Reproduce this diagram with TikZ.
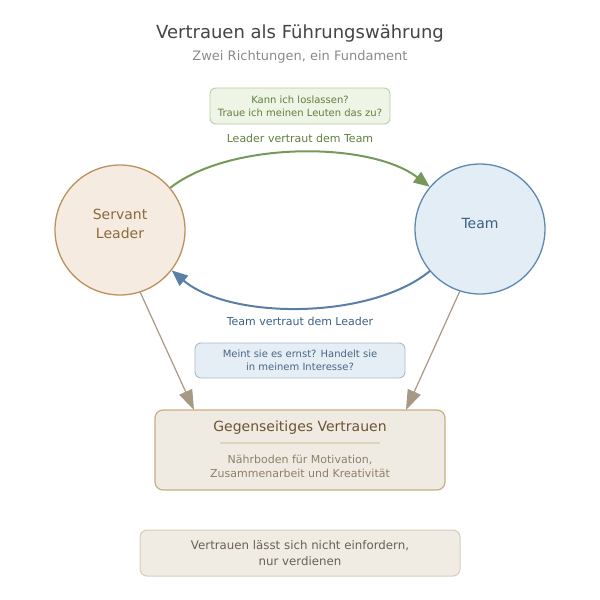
\documentclass[tikz,border=0pt]{standalone}
\usepackage{fontspec}
\setmainfont{DejaVu Sans}
\usetikzlibrary{arrows.meta}
\definecolor{titlec}{HTML}{444444}
\definecolor{subc}{HTML}{8A8A8A}
\definecolor{gfill}{HTML}{EEF4E6}
\definecolor{gdraw}{HTML}{B7CFA2}
\definecolor{gtext}{HTML}{5F7F3F}
\definecolor{garrow}{HTML}{76995A}
\definecolor{slfill}{HTML}{F5EBE1}
\definecolor{sldraw}{HTML}{B8925F}
\definecolor{sltext}{HTML}{8B6A3A}
\definecolor{tfill}{HTML}{E3EDF5}
\definecolor{tdraw}{HTML}{5F87B0}
\definecolor{ttext}{HTML}{3F5F85}
\definecolor{barrow}{HTML}{5B7EA8}
\definecolor{bfill}{HTML}{E6EEF5}
\definecolor{bdraw}{HTML}{A7BCD0}
\definecolor{btext}{HTML}{4A6585}
\definecolor{brarrow}{HTML}{A89886}
\definecolor{ffill}{HTML}{F0EBE2}
\definecolor{fdraw}{HTML}{C8AE80}
\definecolor{fhead}{HTML}{6B5535}
\definecolor{fline}{HTML}{E0D4BE}
\definecolor{fsub}{HTML}{8F7F68}
\definecolor{nfill}{HTML}{F0EBE3}
\definecolor{ndraw}{HTML}{D8CCBE}
\definecolor{ntext}{HTML}{6B6055}
\tikzset{
  circ/.style={circle, minimum size=130pt, inner sep=0pt, line width=1.3pt},
  ctext/.style={align=center, font=\fontsize{14}{19}\selectfont},
  rbox/.style={rounded corners=6pt, line width=0.9pt, align=center},
  arr/.style={line width=2pt},
  brarr/.style={draw=brarrow, line width=1.2pt, -{Triangle[length=20pt,width=14pt]}},
}
\begin{document}
\begin{tikzpicture}[x=1pt,y=-1pt]
\useasboundingbox (0,0) rectangle (600,600);
\node[text=titlec, font=\fontsize{18}{22}\selectfont] (title) at (300,34) {Vertrauen als Führungswährung};
\node[text=subc, font=\fontsize{13}{16}\selectfont] (sub) at (300,57) {Zwei Richtungen, ein Fundament};

\node[rbox, fill=gfill, draw=gdraw, text=gtext, minimum width=180pt, minimum height=36pt, font=\fontsize{10}{13}\selectfont] (gq) at (300,106) {Kann ich loslassen?\\Traue ich meinen Leuten das zu?};
\node[text=gtext, font=\fontsize{11}{13}\selectfont] (gl) at (300,138) {Leader vertraut dem Team};

\node[circ, fill=slfill, draw=sldraw] (sl) at (120,230) {};
\node[ctext, text=sltext] (slt) at (120,224) {Servant\\Leader};
\node[circ, fill=tfill, draw=tdraw] (tm) at (480,229) {};
\node[ctext, text=ttext] (tmt) at (480,223) {Team};

\draw[arr, draw=garrow, -{Triangle[length=16pt,width=13pt]}] (sl.40) .. controls (230,141) and (370,141) .. (tm.140);
\draw[arr, draw=barrow, -{Triangle[length=16pt,width=13pt]}] (tm.-140) .. controls (370,320) and (230,320) .. (sl.-38);

\node[text=ttext, font=\fontsize{11}{13}\selectfont] (bl) at (300,321) {Team vertraut dem Leader};
\node[rbox, fill=bfill, draw=bdraw, text=btext, minimum width=210pt, minimum height=35pt, font=\fontsize{10}{13}\selectfont] (bq) at (300,360.5) {Meint sie es ernst? Handelt sie\\in meinem Interesse?};

\node[rbox, rounded corners=8pt, fill=ffill, draw=fdraw, line width=1.2pt, minimum width=290pt, minimum height=80pt] (fd) at (300,450) {};
\coordinate (f1) at (194,410);
\coordinate (f2) at (406,410);
\draw[brarr] (sl.-72) -- (f1);
\draw[brarr] (tm.-108) -- (f2);
\node[text=fhead, font=\fontsize{14}{17}\selectfont] (fh) at (300,428) {Gegenseitiges Vertrauen};
\draw[fline, line width=1.5pt] (220,443) -- (380,443);
\node[text=fsub, align=center, font=\fontsize{11}{14}\selectfont] (fs) at (300,466) {Nährboden für Motivation,\\Zusammenarbeit und Kreativität};

\node[rbox, rounded corners=7pt, fill=nfill, draw=ndraw, line width=1pt, text=ntext, minimum width=320pt, minimum height=46pt, font=\fontsize{11.8}{16}\selectfont] (nt) at (300,553) {Vertrauen lässt sich nicht einfordern,\\nur verdienen};
\end{tikzpicture}
\end{document}
